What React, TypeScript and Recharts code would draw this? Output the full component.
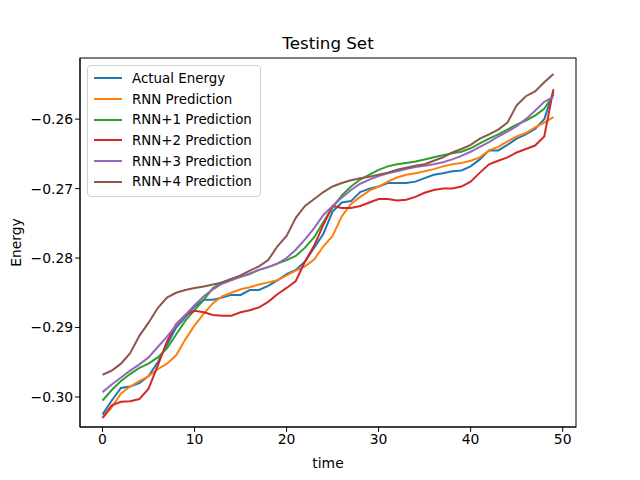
import React from "react";
import { LineChart, Line, XAxis, YAxis, Label } from "recharts";

const time = Array.from({ length: 50 }, (_, i) => i);
const actual = [-0.3025,-0.3005,-0.2987,-0.2985,-0.298,-0.297,-0.295,-0.2925,-0.29,-0.2885,-0.287,-0.286,-0.286,-0.2857,-0.2853,-0.2853,-0.2846,-0.2846,-0.284,-0.2832,-0.2823,-0.2817,-0.2805,-0.2785,-0.2765,-0.2733,-0.272,-0.2718,-0.2705,-0.27,-0.2697,-0.2692,-0.2692,-0.2692,-0.269,-0.2685,-0.268,-0.2678,-0.2675,-0.2674,-0.2668,-0.2658,-0.2645,-0.2645,-0.2637,-0.2628,-0.2622,-0.2614,-0.26,-0.256];
const rnn = [-0.303,-0.3015,-0.2995,-0.2985,-0.2977,-0.297,-0.296,-0.2952,-0.294,-0.2917,-0.2897,-0.288,-0.2865,-0.2855,-0.285,-0.2845,-0.2842,-0.2838,-0.2835,-0.2832,-0.2825,-0.2818,-0.2812,-0.2802,-0.2783,-0.2768,-0.274,-0.2722,-0.2712,-0.2703,-0.2697,-0.269,-0.2684,-0.268,-0.2678,-0.2675,-0.2672,-0.2668,-0.2665,-0.2663,-0.266,-0.2655,-0.2645,-0.264,-0.2632,-0.2625,-0.262,-0.2612,-0.2605,-0.2597];
const rnn1 = [-0.3005,-0.299,-0.2977,-0.2967,-0.2958,-0.2952,-0.2943,-0.293,-0.291,-0.289,-0.2875,-0.286,-0.2843,-0.2835,-0.283,-0.2827,-0.2823,-0.2817,-0.2813,-0.2808,-0.2803,-0.2797,-0.2785,-0.277,-0.2748,-0.2727,-0.271,-0.2697,-0.2687,-0.268,-0.2673,-0.2668,-0.2665,-0.2663,-0.2661,-0.2658,-0.2655,-0.2652,-0.2649,-0.2647,-0.2642,-0.2635,-0.2628,-0.2622,-0.2615,-0.2608,-0.2602,-0.2595,-0.2585,-0.2565];
const rnn2 = [-0.303,-0.3012,-0.3007,-0.3006,-0.3003,-0.2988,-0.2955,-0.292,-0.2895,-0.2882,-0.2876,-0.2878,-0.2882,-0.2883,-0.2883,-0.2878,-0.2875,-0.2871,-0.2863,-0.2852,-0.2843,-0.2833,-0.2805,-0.2782,-0.2752,-0.2725,-0.2728,-0.2728,-0.2725,-0.272,-0.2715,-0.2715,-0.2717,-0.2716,-0.2712,-0.2706,-0.2702,-0.27,-0.27,-0.2697,-0.269,-0.2677,-0.2665,-0.266,-0.2655,-0.2648,-0.2643,-0.2638,-0.2625,-0.2557];
const rnn3 = [-0.2993,-0.2982,-0.2972,-0.2962,-0.2953,-0.2943,-0.2928,-0.2913,-0.2897,-0.2882,-0.2868,-0.2855,-0.2845,-0.2837,-0.2832,-0.2827,-0.2822,-0.2817,-0.2813,-0.2808,-0.28,-0.2788,-0.2773,-0.2757,-0.2738,-0.2725,-0.2713,-0.2702,-0.2693,-0.2687,-0.2682,-0.2678,-0.2675,-0.2672,-0.2669,-0.2667,-0.2665,-0.2662,-0.2658,-0.2653,-0.2647,-0.264,-0.2633,-0.2625,-0.2618,-0.261,-0.26,-0.2588,-0.2575,-0.2568];
const rnn4 = [-0.2968,-0.2962,-0.2952,-0.2937,-0.2912,-0.2893,-0.2872,-0.2857,-0.285,-0.2846,-0.2843,-0.2841,-0.2838,-0.2835,-0.283,-0.2825,-0.2818,-0.2812,-0.2803,-0.2783,-0.2768,-0.2742,-0.2725,-0.2715,-0.2705,-0.2697,-0.2692,-0.2688,-0.2685,-0.2683,-0.268,-0.2677,-0.2673,-0.267,-0.2667,-0.2665,-0.266,-0.2655,-0.2648,-0.2643,-0.2637,-0.2628,-0.2622,-0.2615,-0.2605,-0.258,-0.2567,-0.256,-0.2547,-0.2535];

const xTicks = [0, 10, 20, 30, 40, 50];
const yTicks = [-0.3, -0.29, -0.28, -0.27, -0.26];

const seriesNames = ["Actual Energy", "RNN Prediction", "RNN+1 Prediction", "RNN+2 Prediction", "RNN+3 Prediction", "RNN+4 Prediction"];
const seriesKeys = ["a", "r0", "r1", "r2", "r3", "r4"];
const seriesColors = ["#1f77b4", "#ff7f0e", "#2ca02c", "#d62728", "#9467bd", "#8c564b"];
const seriesValues = [actual, rnn, rnn1, rnn2, rnn3, rnn4];

const data = time.map((t, i) => {
  const row: any = { t };
  seriesKeys.forEach((k, j) => (row[k] = seriesValues[j][i]));
  return row;
});

const font = "'DejaVu Sans', sans-serif";
const tickStyle = { fontSize: 13.9, fill: "#000", fontFamily: font };

export default function App() {
  return (
    <div style={{ position: "absolute", left: 0, top: 0, width: 640, height: 480, background: "#fff", fontFamily: font }}>
      <LineChart width={640} height={480} data={data} margin={{ top: 58, right: 64, bottom: 0, left: 0 }}>
        <XAxis dataKey="t" type="number" domain={[-2.45, 51.45]} ticks={xTicks} height={53}
          tick={tickStyle} tickLine={{ stroke: "#000" }} tickSize={4.9} axisLine={{ stroke: "#000" }}
          allowDataOverflow>
          <Label value="time" position="insideBottom" offset={12} style={{ fontSize: 13.9, fill: "#000", fontFamily: font }} />
        </XAxis>
        <YAxis type="number" domain={[-0.30432, -0.2512]} ticks={yTicks} width={80}
          tick={tickStyle} tickLine={{ stroke: "#000" }} tickSize={4.9} axisLine={{ stroke: "#000" }}
          tickFormatter={(v: number) => v.toFixed(2).replace("-", "\u2212")} allowDataOverflow>
          <Label value="Energy" angle={-90} position="insideLeft" offset={16} style={{ fontSize: 13.9, fill: "#000", fontFamily: font, textAnchor: "middle" }} />
        </YAxis>
        {seriesKeys.map((k, j) => (
          <Line key={k} dataKey={k} stroke={seriesColors[j]} strokeWidth={2} dot={false} isAnimationActive={false} type="linear" />
        ))}
        <rect x={80} y={58} width={496} height={369} fill="none" stroke="#000" strokeWidth={1} />
        <text x={328} y={49} textAnchor="middle" style={{ fontSize: 16.7, fontFamily: font, fill: "#000" }}>Testing Set</text>
      </LineChart>
      <div style={{ position: "absolute", left: 87, top: 65, width: 174, height: 132, border: "1px solid #d0d0d0", borderRadius: 4, background: "rgba(255,255,255,0.8)", boxSizing: "border-box", padding: "2px 0 0 6px" }}>
        {seriesNames.map((n, j) => (
          <div key={n} style={{ display: "flex", alignItems: "center", height: 20.7, fontSize: 13.4 }}>
            <span style={{ width: 28, height: 2, background: seriesColors[j], marginRight: 10, display: "inline-block" }} />
            <span>{n}</span>
          </div>
        ))}
      </div>
    </div>
  );
}
